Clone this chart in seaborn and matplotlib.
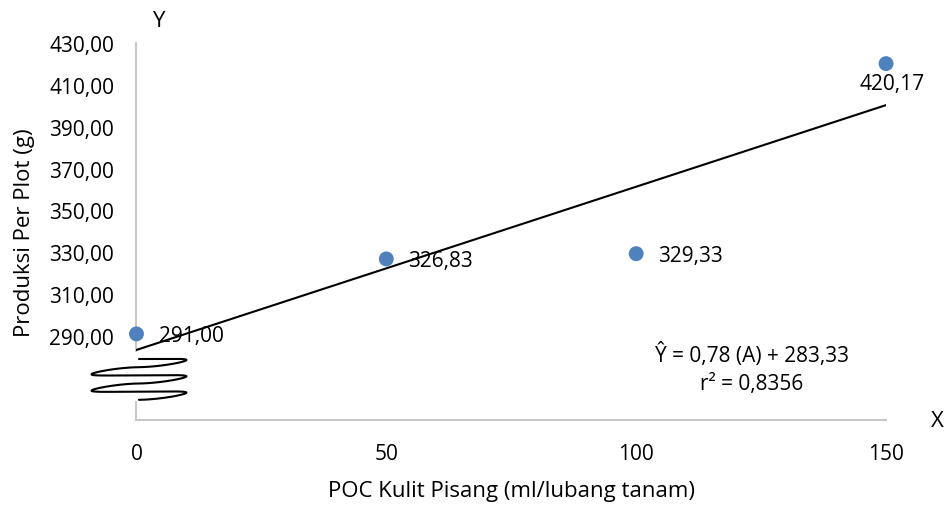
import numpy as np
import matplotlib
matplotlib.use("Agg")
import matplotlib.pyplot as plt
from matplotlib.ticker import FuncFormatter
import seaborn as sns

# data
dose = [0, 50, 100, 150]
produksi = [291.00, 326.83, 329.33, 420.17]
y_ticks = [290, 310, 330, 350, 370, 390, 410, 430]
x_ticks = [0, 50, 100, 150]
eq_text = "Ŷ = 0,78 (A) + 283,33"
r2_text = "r² = 0,8356"

sns.set_style("white")
plt.rcParams['font.family'] = ['Open Sans', 'DejaVu Sans']
plt.rcParams['text.color'] = 'black'
plt.rcParams['axes.labelcolor'] = 'black'

fig = plt.figure(figsize=(9.51, 5.06), dpi=100)
ax = fig.add_axes([0.1435, 0.1686, 0.7882, 0.7444])

# titik + garis regresi
sns.regplot(x=dose, y=produksi, ci=None, ax=ax, truncate=True,
            scatter_kws=dict(s=115, color="#4f81bd", alpha=1, edgecolor="none", zorder=3, clip_on=False),
            line_kws=dict(color="black", lw=1.5, zorder=2))

ax.set_xlim(0, 150)
ax.set_ylim(250, 430)
ax.set_xticks(x_ticks)
ax.set_yticks(y_ticks)
ax.yaxis.set_major_formatter(FuncFormatter(lambda v, p: f"{v:.2f}".replace(".", ",")))
ax.tick_params(axis="both", length=0, labelsize=15, colors="black")
ax.tick_params(axis="y", pad=16)
ax.tick_params(axis="x", pad=17)

# achsen
for s in ["top", "right", "left"]:
    ax.spines[s].set_visible(False)
ax.spines["bottom"].set_color("#c8c8c8")
ax.spines["bottom"].set_linewidth(1.5)
ax.axvline(0, ymin=(282.8 - 250) / 180, ymax=1, color="#c8c8c8", lw=1.5, clip_on=False, zorder=1)
ax.axvline(0, ymin=0, ymax=(258.6 - 250) / 180, color="#c8c8c8", lw=1.5, clip_on=False, zorder=1)

# axis break squiggle
phi = np.linspace(0, 5 * np.pi, 400)
s = np.sin(phi)
sx = 0.5 + 9.5 * np.sign(s) * np.abs(s) ** 0.6
sy = 279 - 19.5 * (phi - 1.2 * s) / (5 * np.pi)
ax.plot(sx, sy, color="black", lw=1.5, clip_on=False, zorder=4)

# data labels
for i, (xv, yv) in enumerate(zip(dose, produksi)):
    lab = f"{yv:.2f}".replace(".", ",")
    if i == len(dose) - 1:
        ax.annotate(lab, (xv, yv), xytext=(4, -14), textcoords="offset points",
                    ha="center", va="center", fontsize=15, annotation_clip=False)
    else:
        ax.annotate(lab, (xv, yv), xytext=(16, -1), textcoords="offset points",
                    ha="left", va="center", fontsize=15, annotation_clip=False)

ax.text(123.2, 281.4, eq_text, ha="center", va="center", fontsize=15)
ax.text(123.2, 267.1, r2_text, ha="center", va="center", fontsize=15)

ax.text(4.3, 441, "Y", ha="center", va="center", fontsize=16, clip_on=False)
ax.text(160.3, 249.5, "X", ha="center", va="center", fontsize=16, clip_on=False)

ax.set_xlabel("POC Kulit Pisang (ml/lubang tanam)", fontsize=16, labelpad=11)
ax.set_ylabel("Produksi Per Plot (g)", fontsize=16, labelpad=10)

fig.savefig("out.png", dpi=100)
